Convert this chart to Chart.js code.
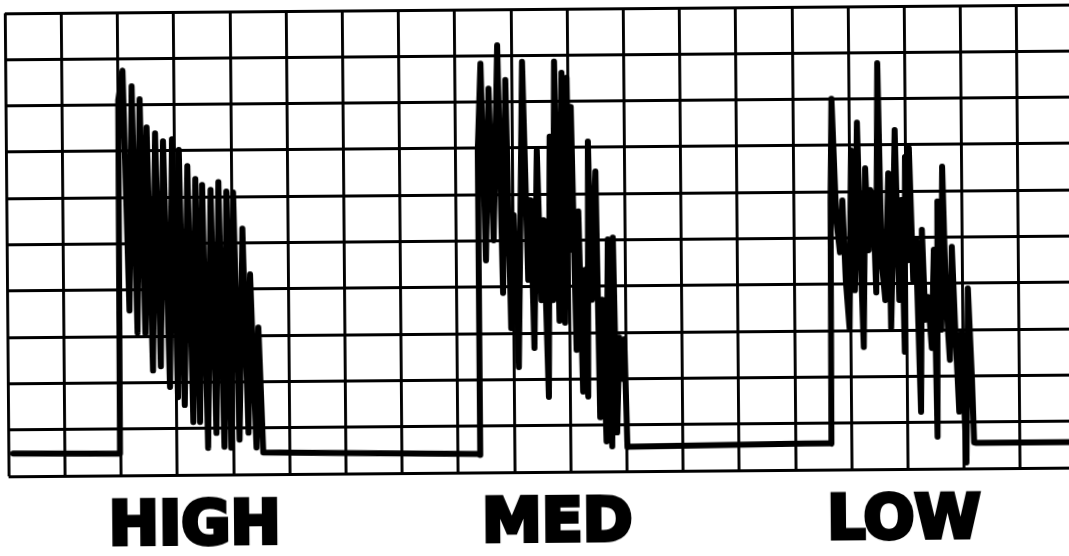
<!DOCTYPE html>
<html>
<head>
<meta charset="utf-8">
<script src="https://cdn.jsdelivr.net/npm/chart.js@4.4.0/dist/chart.umd.min.js"></script>
<style>
  html, body { margin: 0; padding: 0; background: #fff; overflow: hidden; width: 1069px; height: 556px; }
  /* the scanned strip is slightly tilted */
  #chart { position: absolute; left: 0; top: 0; transform-origin: 534.5px 278px; transform: rotate(-0.47deg); }
</style>
</head>
<body>
<canvas id="chart" width="1100" height="556"></canvas>
<script>
// x in chart divisions, y in chart divisions (0 = bottom line)
const leadX = [0.08]
const leadY = [0.49]

const highX = [1.98, 2.00, 2.08, 2.17, 2.24, 2.31, 2.38, 2.45, 2.50, 2.58, 2.65, 2.72, 2.79, 2.88, 2.95, 3.02, 3.07, 3.14, 3.22, 3.29, 3.36, 3.41, 3.48, 3.55, 3.63, 3.70, 3.77, 3.84, 3.91, 3.96, 4.03, 4.11, 4.19, 4.27, 4.32, 4.41, 4.46, 4.53]
const highY = [0.47, 8.10, 8.74, 3.56, 8.40, 3.08, 8.12, 3.06, 7.51, 2.26, 7.38, 2.35, 7.21, 1.90, 7.25, 1.68, 7.02, 1.51, 6.67, 1.14, 6.39, 1.14, 6.26, 0.58, 6.15, 0.90, 6.32, 0.60, 6.11, 0.58, 6.09, 0.75, 5.31, 0.90, 4.32, 0.58, 3.17, 0.47]

const gap1X = [8.36]
const gap1Y = [0.40]

const medX = [8.38, 8.39, 8.45, 8.52, 8.59, 8.66, 8.75, 8.82, 8.89, 8.96, 9.02, 9.09, 9.19, 9.27, 9.32, 9.37, 9.44, 9.50, 9.55, 9.62, 9.67, 9.71, 9.76, 9.82, 9.89, 9.92, 9.98, 10.01, 10.05, 10.12, 10.17, 10.23, 10.28, 10.32, 10.35, 10.40, 10.48, 10.53, 10.58, 10.64, 10.69, 10.74, 10.78, 10.83, 10.88, 10.94, 10.97, 11.01]
const medY = [0.38, 6.95, 8.83, 4.58, 8.29, 5.01, 9.22, 3.87, 8.47, 3.11, 5.55, 2.27, 8.86, 4.15, 5.87, 2.68, 6.95, 3.71, 5.44, 1.62, 7.24, 3.71, 8.86, 3.26, 8.62, 3.22, 8.51, 4.79, 7.88, 2.63, 5.62, 1.73, 4.36, 1.62, 7.13, 3.71, 6.48, 1.17, 3.71, 0.65, 5.01, 0.54, 5.05, 0.84, 2.89, 1.99, 2.85, 0.52]

const gap2X = [11.03, 14.62]
const gap2Y = [0.53, 0.57]

const lowX = [14.64, 14.66, 14.69, 14.76, 14.82, 14.87, 14.92, 14.98, 15.03, 15.08, 15.14, 15.19, 15.23, 15.28, 15.33, 15.37, 15.42, 15.46, 15.51, 15.56, 15.62, 15.69, 15.72, 15.76, 15.81, 15.87, 15.92, 15.96, 15.99, 16.03, 16.06, 16.12, 16.17, 16.24, 16.28, 16.33, 16.38, 16.44, 16.49, 16.53, 16.56, 16.61, 16.65, 16.70, 16.76, 16.81, 16.86, 16.92, 16.97, 17.04, 17.09, 17.15, 17.18]
const lowY = [0.56, 5.81, 8.01, 5.38, 4.69, 5.81, 4.08, 3.05, 6.89, 3.87, 7.49, 4.51, 2.64, 6.50, 4.73, 6.03, 5.66, 3.82, 8.77, 4.51, 3.65, 6.39, 3.05, 4.73, 7.32, 3.65, 5.81, 2.53, 6.74, 4.51, 6.93, 4.08, 4.95, 1.23, 5.16, 3.22, 3.71, 2.61, 4.73, 0.69, 5.77, 3.00, 6.52, 3.65, 2.35, 4.79, 3.00, 1.23, 2.94, 0.13, 3.89, 1.92, 0.56]

const tailX = [17.22, 19.2]
const tailY = [0.55, 0.55]

const labelPos = [3.30, 9.75, 15.92]
const labelText = ['HIGH', 'MED', 'LOW']

const toPoints = (xs, ys) => xs.map((x, i) => ({ x: x, y: ys[i] }))

const trace = [].concat(
  toPoints(leadX, leadY),
  toPoints(highX, highY),
  toPoints(gap1X, gap1Y),
  toPoints(medX, medY),
  toPoints(gap2X, gap2Y),
  toPoints(lowX, lowY),
  toPoints(tailX, tailY)
)

const gridStyle = { color: '#000', lineWidth: 2.9, drawTicks: false }

new Chart(document.getElementById('chart').getContext('2d'), {
  type: 'line',
  data: {
    datasets: [{
      data: trace,
      borderColor: '#000',
      borderWidth: 6,
      borderJoinStyle: 'round',
      borderCapStyle: 'round',
      pointRadius: 0,
      tension: 0,
      fill: false,
    }],
  },
  options: {
    responsive: false,
    animation: false,
    devicePixelRatio: 1,
    layout: { padding: { left: 7.3, top: 9, right: 24.9, bottom: 0 } },
    plugins: { legend: { display: false }, tooltip: { enabled: false } },
    scales: {
      x: {
        type: 'linear', min: 0, max: 19, position: 'bottom',
        ticks: { display: false, stepSize: 1 },
        grid: gridStyle,
        border: { display: false },
        afterFit: (s) => { s.height = 0 },
      },
      names: {
        type: 'linear', min: 0, max: 19, position: 'bottom',
        grid: { display: false },
        border: { display: false },
        afterBuildTicks: (s) => { s.ticks = labelPos.map((v) => ({ value: v })) },
        afterFit: (s) => { s.height = 84 },
        ticks: {
          autoSkip: false,
          maxRotation: 0,
          padding: 9,
          color: '#000',
          textStrokeColor: '#000',
          textStrokeWidth: 4,
          font: { family: '"DejaVu Sans", sans-serif', weight: 'bold', size: 60 },
          callback: (v, i) => labelText[i],
        },
      },
      y: {
        type: 'linear', min: 0, max: 10,
        ticks: { display: false, stepSize: 1 },
        grid: gridStyle,
        border: { display: false },
        afterFit: (s) => { s.width = 0 },
      },
    },
  },
})
</script>
</body>
</html>
